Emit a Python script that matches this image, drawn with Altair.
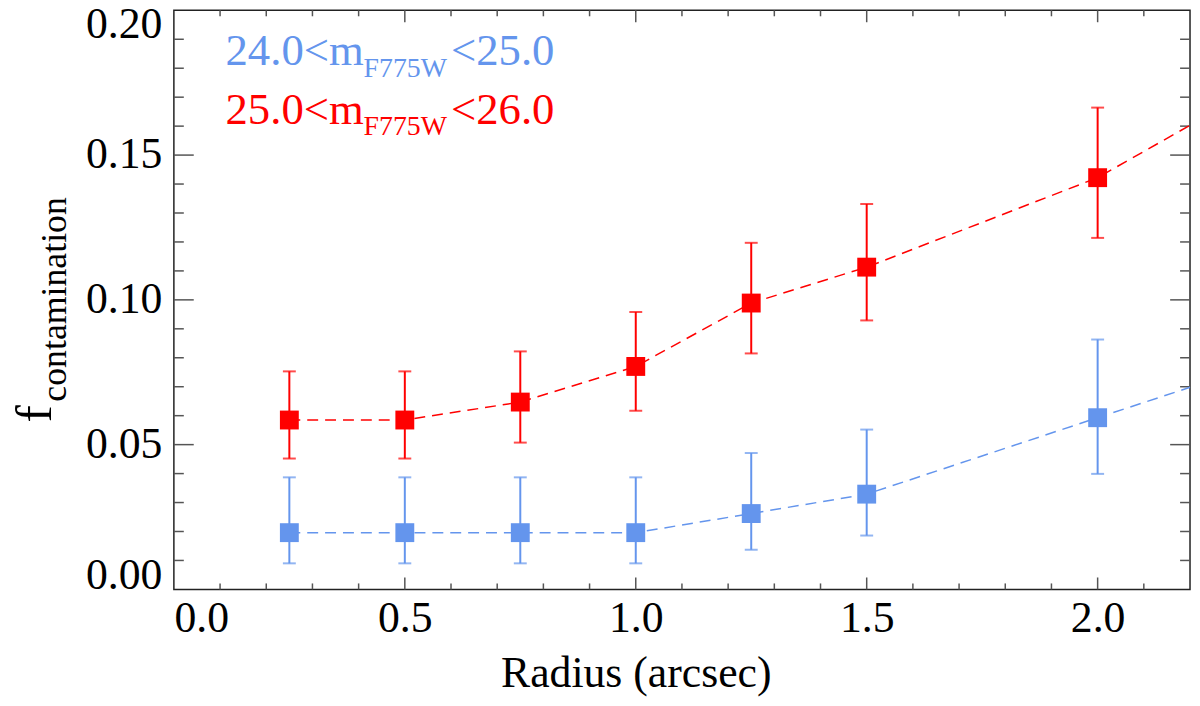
import altair as alt
import pandas as pd

# contamination fraction vs. radius, two magnitude bins
radius = [0.25, 0.5, 0.75, 1.0, 1.25, 1.5, 2.0]

bright_f = [0.0196, 0.0196, 0.0196, 0.0196, 0.0262, 0.0329, 0.0593]
bright_hi = [0.0387, 0.0387, 0.0387, 0.0387, 0.0471, 0.0552, 0.0863]
bright_lo = [0.0090, 0.0090, 0.0090, 0.0090, 0.0137, 0.0186, 0.0399]

faint_f = [0.0585, 0.0585, 0.0647, 0.0770, 0.0989, 0.1113, 0.1422]
faint_hi = [0.0753, 0.0753, 0.0822, 0.0958, 0.1197, 0.1331, 0.1664]
faint_lo = [0.0452, 0.0452, 0.0507, 0.0617, 0.0815, 0.0929, 0.1214]

# the dashed curves run on to the right edge of the frame
edge_r = 2.2
bright_edge = 0.0698
faint_edge = 0.1603

x_major = [0.5, 1.0, 1.5, 2.0]
x_minor = [0.1, 0.2, 0.3, 0.4, 0.6, 0.7, 0.8, 0.9, 1.1, 1.2, 1.3, 1.4,
           1.6, 1.7, 1.8, 1.9, 2.1]
y_major = [0.05, 0.10, 0.15]
y_minor = [0.01, 0.02, 0.03, 0.04, 0.06, 0.07, 0.08, 0.09, 0.11, 0.12,
           0.13, 0.14, 0.16, 0.17, 0.18, 0.19]
x_labels = [0.0, 0.5, 1.0, 1.5, 2.0]
y_labels = [0.0, 0.05, 0.10, 0.15, 0.20]

BLUE = "#6495ED"
RED = "#FF0000"
FONT = "Liberation Serif"
TICK = "#555555"
W, H = 1023, 583

pts = pd.DataFrame({
    "r": radius * 2,
    "f": bright_f + faint_f,
    "hi": bright_hi + faint_hi,
    "lo": bright_lo + faint_lo,
    "s": ["bright"] * len(radius) + ["faint"] * len(radius),
})
curve = pd.DataFrame({
    "r": radius + [edge_r] + radius + [edge_r],
    "f": bright_f + [bright_edge] + faint_f + [faint_edge],
    "s": ["bright"] * (len(radius) + 1) + ["faint"] * (len(radius) + 1),
})

xs = alt.Scale(domain=[0, 2.2], nice=False, zero=False)
ys = alt.Scale(domain=[0, 0.2], nice=False, zero=False)
x_axis = alt.Axis(
    values=x_labels, format=".1f", ticks=False, domain=False, grid=False,
    labelFont=FONT, labelFontSize=44, labelColor="black", labelPadding=7,
    title="Radius (arcsec)", titleFont=FONT, titleFontSize=44,
    titleFontWeight="normal", titleColor="black", titleX=465, titleY=98,
    titleBaseline="alphabetic", titleAlign="center",
)
y_axis = alt.Axis(
    values=y_labels, format=".2f", ticks=False, domain=False, grid=False,
    labelFont=FONT, labelFontSize=44, labelColor="black", labelPadding=12,
    labelFlush=True, labelFlushOffset=8, title="",
)
X = alt.X("r:Q", scale=xs, axis=x_axis)
Y = alt.Y("f:Q", scale=ys, axis=y_axis)
col = alt.Color("s:N", scale=alt.Scale(domain=["bright", "faint"], range=[BLUE, RED]),
                legend=None)

lines = alt.Chart(curve).mark_line(strokeDash=[11, 7], strokeWidth=1.5).encode(
    x=X, y=Y, color=col, detail="s:N"
)
bars = alt.Chart(pts).mark_rule(strokeWidth=2).encode(
    x=X, y=alt.Y("lo:Q", scale=ys, axis=y_axis), y2="hi:Q", color=col
)
cap_hi = alt.Chart(pts).mark_tick(orient="horizontal", size=13, thickness=2).encode(
    x=X, y=alt.Y("hi:Q", scale=ys, axis=y_axis), color=col
)
cap_lo = alt.Chart(pts).mark_tick(orient="horizontal", size=13, thickness=2).encode(
    x=X, y=alt.Y("lo:Q", scale=ys, axis=y_axis), color=col
)
squares = alt.Chart(pts).mark_square(size=361, opacity=1).encode(x=X, y=Y, color=col)


def xticks(vals, length):
    d = pd.DataFrame({"r": vals})
    bottom = alt.Chart(d).mark_rule(color=TICK, strokeWidth=1.5).encode(
        x=X, y=alt.value(H), y2=alt.value(H - length))
    top = alt.Chart(d).mark_rule(color=TICK, strokeWidth=1.5).encode(
        x=X, y=alt.value(0), y2=alt.value(length))
    return [bottom, top]


def yticks(vals, length):
    d = pd.DataFrame({"f": vals})
    left = alt.Chart(d).mark_rule(color=TICK, strokeWidth=1.5).encode(
        y=Y, x=alt.value(0), x2=alt.value(length))
    right = alt.Chart(d).mark_rule(color=TICK, strokeWidth=1.5).encode(
        y=Y, x=alt.value(W), x2=alt.value(W - length))
    return [left, right]


one = pd.DataFrame({"a": [0]})


def label(text, x, y, size, color, angle=0):
    return alt.Chart(one).mark_text(
        text=text, font=FONT, fontSize=size, color=color, align="left",
        baseline="alphabetic", angle=angle,
    ).encode(x=alt.value(x), y=alt.value(y))


texts = [
    label("24.0<m", 52, 55, 45, BLUE),
    label("F775W", 191, 67, 28, BLUE),
    label("<25.0", 279, 55, 45, BLUE),
    label("25.0<m", 52, 114, 45, RED),
    label("F775W", 191, 126, 28, RED),
    label("<26.0", 279, 114, 45, RED),
    label("f", -124, 415, 52, "black", 270),
    label("contamination", -109, 394, 36, "black", 270),
]

chart = alt.layer(
    *xticks(x_major, 12), *xticks(x_minor, 6),
    *yticks(y_major, 20), *yticks(y_minor, 10),
    lines, bars, cap_hi, cap_lo, squares, *texts,
).properties(
    width=W, height=H, autosize="none",
    padding={"left": 167, "top": 0, "right": 2, "bottom": 107},
    background="white",
).configure_view(stroke="#222222", strokeWidth=1.5)

chart.save("out.html", embed_options={"renderer": "svg", "actions": False})
